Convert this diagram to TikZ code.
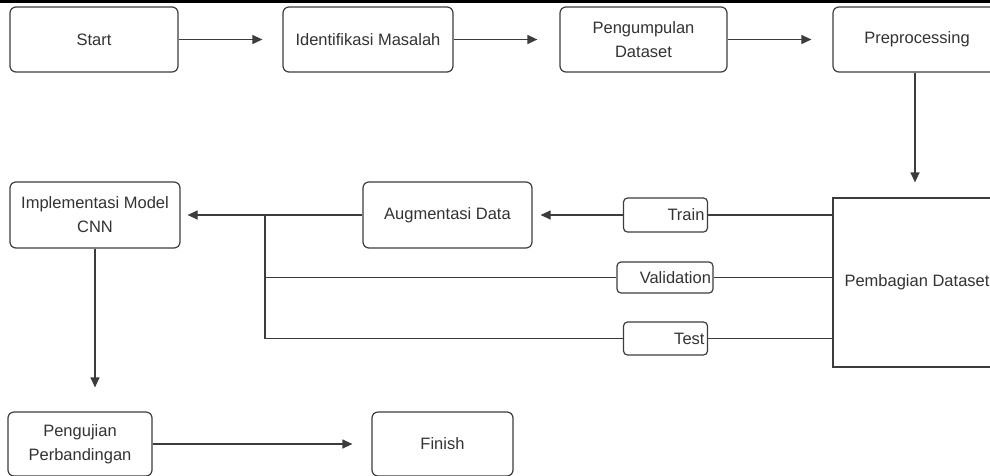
\documentclass[tikz,border=0pt]{standalone}
\usepackage{fontspec}
\setmainfont{Liberation Sans}
\usetikzlibrary{arrows.meta}
\definecolor{ln}{HTML}{3C3C3C}
\definecolor{tx}{HTML}{333333}
\tikzset{
  box/.style={draw=ln, line width=1.2pt, rounded corners=6pt, fill=white, text=tx,
    align=center, inner sep=2pt, font=\fontsize{16.5}{24}\selectfont},
  sqbox/.style={box, rounded corners=0pt},
  lbl/.style={box, rounded corners=4pt, inner sep=3pt, align=right},
  conn/.style={draw=ln, line width=1.2pt},
  arr/.style={conn, -{Stealth[length=10pt,width=9pt,inset=0pt]}}
}
\begin{document}
\begin{tikzpicture}[x=1pt,y=-1pt]
\useasboundingbox (0,0) rectangle (990,475);
\clip (0,0) rectangle (990,475);
\fill[black] (0,0) rectangle (990,3);

\node[box, minimum width=168pt, minimum height=65pt] (start) at (94,39.5) {Start};
\node[box, minimum width=170pt, minimum height=65pt] (ident) at (368,39.5) {Identifikasi Masalah};
\node[box, minimum width=167pt, minimum height=65pt] (peng) at (643.5,39.5) {Pengumpulan\\Dataset};
\node[box, minimum width=168pt, minimum height=65pt] (prep) at (917,39.5) {Preprocessing};

\node[sqbox, minimum width=168pt, minimum height=169pt] (pemb) at (917,282.5) {Pembagian Dataset};

\node[lbl, text width=78pt, minimum height=34pt] (train) at (665.5,215) {Train};
\node[lbl, inner xsep=2pt, text width=92pt, minimum height=31pt] (valid) at (665,277.5) {Validation};
\node[lbl, text width=78pt, minimum height=33pt] (test) at (665.5,338.5) {Test};

\node[box, minimum width=169pt, minimum height=66pt] (aug) at (447.5,215) {Augmentasi Data};
\node[box, minimum width=170pt, minimum height=66pt] (impl) at (95,215) {Implementasi Model\\CNN};

\node[box, minimum width=144pt, minimum height=64pt] (uji) at (80,444) {Pengujian\\Perbandingan};
\node[box, minimum width=141pt, minimum height=64pt] (finish) at (442.5,444) {Finish};

\coordinate (j) at (265,215);

\draw[arr, shorten >=20pt] (start.east) -- (ident.west);
\draw[arr, shorten >=22pt] (ident.east) -- (peng.west);
\draw[arr, shorten >=21pt] (peng.east) -- (prep.west);
\draw[arr, shorten >=15pt] ([xshift=-2pt]prep.south) -- ([xshift=-2pt]prep.south |- pemb.north);

\draw[conn] (train.east) -- (train.east -| pemb.west);
\draw[conn] (valid.east) -- (valid.east -| pemb.west);
\draw[conn] (test.east) -- (test.east -| pemb.west);

\draw[arr, shorten >=8pt] (train.west) -- (aug.east);
\draw[arr, shorten >=7pt] (aug.west) -- (impl.east);
\draw[conn] (valid.west) -- (valid.west -| j);
\draw[conn] (test.west) -- (test.west -| j) -- (j);

\draw[arr, shorten >=24pt] (impl.south) -- (impl.south |- uji.north);
\draw[arr, shorten >=19pt] (uji.east) -- (finish.west);
\end{tikzpicture}
\end{document}
